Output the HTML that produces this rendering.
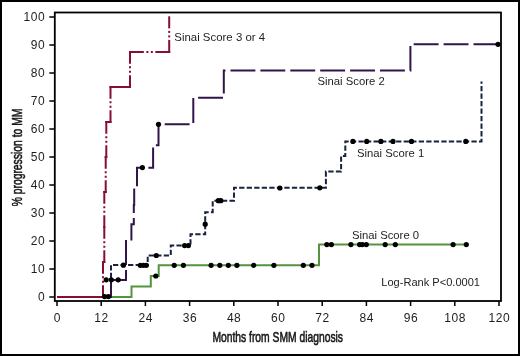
<!DOCTYPE html>
<html><head><meta charset="utf-8"><style>
html,body{margin:0;padding:0;background:#fff;}
.wrap{position:relative;width:520px;height:356px;box-sizing:border-box;border:2px solid #000;background:#fff;overflow:hidden;font-family:"Liberation Sans",sans-serif;}
svg{position:absolute;left:-2px;top:-2px;will-change:transform;}
</style></head><body><div class="wrap">
<svg width="520" height="356" viewBox="0 0 520 356">
<g stroke="#000" stroke-width="1.8" fill="none">
<rect x="54.8" y="12.5" width="446.2" height="288.5"/>
</g>
<g stroke="#000" stroke-width="1.5">
<line x1="49.3" y1="297" x2="54.8" y2="297"/>
<line x1="49.3" y1="269" x2="54.8" y2="269"/>
<line x1="49.3" y1="241" x2="54.8" y2="241"/>
<line x1="49.3" y1="213" x2="54.8" y2="213"/>
<line x1="49.3" y1="185" x2="54.8" y2="185"/>
<line x1="49.3" y1="157" x2="54.8" y2="157"/>
<line x1="49.3" y1="129" x2="54.8" y2="129"/>
<line x1="49.3" y1="101" x2="54.8" y2="101"/>
<line x1="49.3" y1="73" x2="54.8" y2="73"/>
<line x1="49.3" y1="45" x2="54.8" y2="45"/>
<line x1="49.3" y1="17" x2="54.8" y2="17"/>
<line x1="57" y1="301" x2="57" y2="306"/>
<line x1="101.2" y1="301" x2="101.2" y2="306"/>
<line x1="145.4" y1="301" x2="145.4" y2="306"/>
<line x1="189.6" y1="301" x2="189.6" y2="306"/>
<line x1="233.8" y1="301" x2="233.8" y2="306"/>
<line x1="278" y1="301" x2="278" y2="306"/>
<line x1="322.2" y1="301" x2="322.2" y2="306"/>
<line x1="366.4" y1="301" x2="366.4" y2="306"/>
<line x1="410.6" y1="301" x2="410.6" y2="306"/>
<line x1="454.8" y1="301" x2="454.8" y2="306"/>
<line x1="499" y1="301" x2="499" y2="306"/>
</g>
<g font-family="Liberation Sans, sans-serif" font-size="12" letter-spacing="0.5" fill="#1e1e1e">
<text x="45.1" y="301.3" text-anchor="end">0</text>
<text x="45.1" y="273.3" text-anchor="end">10</text>
<text x="45.1" y="245.3" text-anchor="end">20</text>
<text x="45.1" y="217.3" text-anchor="end">30</text>
<text x="45.1" y="189.3" text-anchor="end">40</text>
<text x="45.1" y="161.3" text-anchor="end">50</text>
<text x="45.1" y="133.3" text-anchor="end">60</text>
<text x="45.1" y="105.3" text-anchor="end">70</text>
<text x="45.1" y="77.3" text-anchor="end">80</text>
<text x="45.1" y="49.3" text-anchor="end">90</text>
<text x="45.1" y="21.3" text-anchor="end">100</text>
<text x="57.3" y="321.6" text-anchor="middle">0</text>
<text x="101.5" y="321.6" text-anchor="middle">12</text>
<text x="145.7" y="321.6" text-anchor="middle">24</text>
<text x="189.9" y="321.6" text-anchor="middle">36</text>
<text x="234.1" y="321.6" text-anchor="middle">48</text>
<text x="278.3" y="321.6" text-anchor="middle">60</text>
<text x="322.5" y="321.6" text-anchor="middle">72</text>
<text x="366.7" y="321.6" text-anchor="middle">84</text>
<text x="410.9" y="321.6" text-anchor="middle">96</text>
<text x="455.1" y="321.6" text-anchor="middle">108</text>
<text x="499.3" y="321.6" text-anchor="middle">120</text>
</g>
<path d="M57 297 L131.5 297 L131.5 286.5 L150.8 286.5 L150.8 275.9 L158.7 275.9 L158.7 265.3 L319 265.3 L319 244.5 L468 244.5" fill="none" stroke="#56933f" stroke-width="2.0"/>
<path d="M57 297 L111 297 L111 265 L147.7 265 L147.7 255.5 L170.8 255.5 L170.8 245.6 L190.5 245.6 L190.5 234.3 L205.2 234.3 L205.2 212.3 L212.7 212.3 L212.7 200.7 L234 200.7 L234 187.8 L325.9 187.8 L325.9 171.5 L341.1 171.5 L341.1 156 L345.3 156 L345.3 141.4 L481.5 141.4 L481.5 81.4" fill="none" stroke="#17233f" stroke-width="2.0" stroke-dasharray="5.3 2.232" stroke-dashoffset="2.4"/>
<path d="M57 297 L111 297 L111 280 L126 280 L126 241 L131.4 241 L131.4 224.3 L133.8 224.3 L133.8 205 L134.2 205 L134.2 188 L137 188 L137 167.7 L153.1 167.7 L153.1 145.3 L158.5 145.3 L158.5 124.2 L193.3 124.2 L193.3 97.8 L223.8 97.8 L223.8 70.4 L410.4 70.4 L410.4 44.3 L497.7 44.3" fill="none" stroke="#31144a" stroke-width="2.0" stroke-dasharray="24.9 5" stroke-dashoffset="18.51"/>
<g stroke="#860d36" stroke-width="2.0">
<line x1="57" y1="297" x2="104" y2="297"/>
<line x1="103" y1="298" x2="103" y2="285.25"/>
<line x1="103" y1="282.75" x2="103" y2="280.75"/>
<line x1="103" y1="278.25" x2="103" y2="276.25"/>
<line x1="103" y1="273.75" x2="103" y2="261"/>
<line x1="102" y1="262" x2="105.3" y2="262"/>
<line x1="104.3" y1="263" x2="104.3" y2="250.25"/>
<line x1="104.3" y1="247.75" x2="104.3" y2="245.75"/>
<line x1="104.3" y1="243.25" x2="104.3" y2="241.25"/>
<line x1="104.3" y1="238.75" x2="104.3" y2="226"/>
<line x1="104.3" y1="228" x2="104.3" y2="215.25"/>
<line x1="104.3" y1="212.75" x2="104.3" y2="210.75"/>
<line x1="104.3" y1="208.25" x2="104.3" y2="206.25"/>
<line x1="104.3" y1="203.75" x2="104.3" y2="191"/>
<line x1="103.3" y1="192" x2="106.7" y2="192"/>
<line x1="105.7" y1="193" x2="105.7" y2="180.25"/>
<line x1="105.7" y1="177.75" x2="105.7" y2="175.75"/>
<line x1="105.7" y1="173.25" x2="105.7" y2="171.25"/>
<line x1="105.7" y1="168.75" x2="105.7" y2="156"/>
<line x1="104.7" y1="157" x2="107.3" y2="157"/>
<line x1="106.3" y1="158" x2="106.3" y2="145.25"/>
<line x1="106.3" y1="142.75" x2="106.3" y2="140.75"/>
<line x1="106.3" y1="138.25" x2="106.3" y2="136.25"/>
<line x1="106.3" y1="133.75" x2="106.3" y2="121"/>
<line x1="105.3" y1="122" x2="111.5" y2="122"/>
<line x1="110.5" y1="123" x2="110.5" y2="110.25"/>
<line x1="110.5" y1="107.75" x2="110.5" y2="105.75"/>
<line x1="110.5" y1="103.25" x2="110.5" y2="101.25"/>
<line x1="110.5" y1="98.75" x2="110.5" y2="86"/>
<line x1="109.5" y1="87" x2="131" y2="87"/>
<line x1="130" y1="88" x2="130" y2="75.25"/>
<line x1="130" y1="72.75" x2="130" y2="70.75"/>
<line x1="130" y1="68.25" x2="130" y2="66.25"/>
<line x1="130" y1="63.75" x2="130" y2="51"/>
<line x1="129" y1="52" x2="143.85" y2="52"/>
<line x1="146.35" y1="52" x2="148.35" y2="52"/>
<line x1="150.85" y1="52" x2="152.85" y2="52"/>
<line x1="155.35" y1="52" x2="170.2" y2="52"/>
<line x1="169.2" y1="53" x2="169.2" y2="39.9"/>
<line x1="169.2" y1="37.4" x2="169.2" y2="35.4"/>
<line x1="169.2" y1="32.9" x2="169.2" y2="30.9"/>
<line x1="169.2" y1="28.4" x2="169.2" y2="16.3"/>
</g>
<g fill="#000">
<circle cx="104.6" cy="296.6" r="2.6"/>
<circle cx="108.4" cy="296.6" r="2.6"/>
<circle cx="106.2" cy="279.8" r="2.6"/>
<circle cx="111.3" cy="279.8" r="2.6"/>
<circle cx="118.2" cy="279.8" r="2.6"/>
<circle cx="123.4" cy="265.2" r="2.6"/>
<circle cx="140.3" cy="265.3" r="2.6"/>
<circle cx="143.5" cy="265.3" r="2.6"/>
<circle cx="146.3" cy="265.3" r="2.6"/>
<circle cx="155.8" cy="276" r="2.6"/>
<circle cx="174.2" cy="265.3" r="2.6"/>
<circle cx="183.4" cy="265.3" r="2.6"/>
<circle cx="211.1" cy="265.3" r="2.6"/>
<circle cx="219.8" cy="265.3" r="2.6"/>
<circle cx="228.3" cy="265.3" r="2.6"/>
<circle cx="236.9" cy="265.3" r="2.6"/>
<circle cx="253.7" cy="265.3" r="2.6"/>
<circle cx="273.9" cy="265.3" r="2.6"/>
<circle cx="303.3" cy="265.3" r="2.6"/>
<circle cx="312" cy="265.3" r="2.6"/>
<circle cx="326.8" cy="244.6" r="2.6"/>
<circle cx="331.4" cy="244.6" r="2.6"/>
<circle cx="350.9" cy="244.6" r="2.6"/>
<circle cx="359.6" cy="244.6" r="2.6"/>
<circle cx="362.4" cy="244.6" r="2.6"/>
<circle cx="366.3" cy="244.6" r="2.6"/>
<circle cx="385.2" cy="244.6" r="2.6"/>
<circle cx="395.3" cy="244.6" r="2.6"/>
<circle cx="453.1" cy="244.6" r="2.6"/>
<circle cx="466.3" cy="244.6" r="2.6"/>
<circle cx="156.3" cy="255.5" r="2.6"/>
<circle cx="184.6" cy="245.6" r="2.6"/>
<circle cx="188.4" cy="245.6" r="2.6"/>
<circle cx="205.2" cy="224.2" r="2.6"/>
<circle cx="218.3" cy="200.7" r="2.6"/>
<circle cx="220.8" cy="200.7" r="2.6"/>
<circle cx="279.9" cy="188" r="2.6"/>
<circle cx="319.8" cy="187.8" r="2.6"/>
<circle cx="352.9" cy="141.4" r="2.6"/>
<circle cx="366.7" cy="141.4" r="2.6"/>
<circle cx="380.9" cy="141.4" r="2.6"/>
<circle cx="393" cy="141.4" r="2.6"/>
<circle cx="411.5" cy="141.4" r="2.6"/>
<circle cx="465.8" cy="141.4" r="2.6"/>
<circle cx="142.4" cy="167.6" r="2.6"/>
<circle cx="158.5" cy="124.3" r="2.6"/>
<circle cx="498" cy="44.3" r="2.6"/>
</g>
<g font-family="Liberation Sans, sans-serif" font-size="11.3" fill="#1e1e1e">
<text x="174.3" y="40.6" textLength="90.8" lengthAdjust="spacingAndGlyphs">Sinai Score 3 or 4</text>
<text x="317.5" y="85.1">Sinai Score 2</text>
<text x="357" y="156.5">Sinai Score 1</text>
<text x="351.9" y="238.8">Sinai Score 0</text>
<text x="381.3" y="286.4" textLength="98.7" lengthAdjust="spacingAndGlyphs">Log-Rank P&lt;0.0001</text>
</g>
<text transform="translate(277.7 341.5) scale(0.737 1)" text-anchor="middle" font-family="Liberation Sans, sans-serif" font-size="14" fill="#1e1e1e" stroke="#111" stroke-width="0.55">Months from SMM diagnosis</text>
<text transform="translate(21.8 157.5) rotate(-90) scale(0.74 1)" text-anchor="middle" font-family="Liberation Sans, sans-serif" font-size="14" fill="#1e1e1e" stroke="#111" stroke-width="0.55">% progression to MM</text>
</svg></div></body></html>
